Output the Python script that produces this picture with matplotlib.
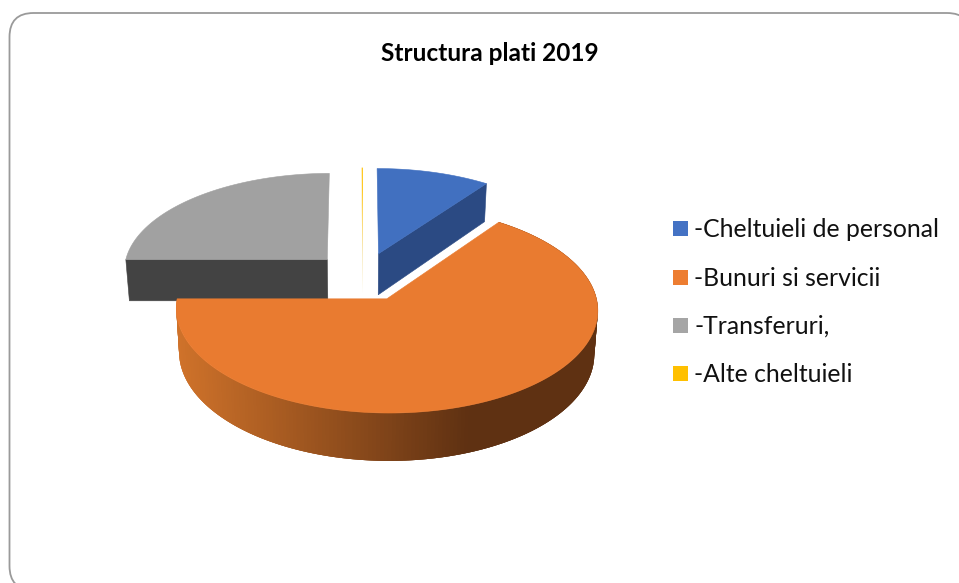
import numpy as np
import matplotlib
matplotlib.use("Agg")
import matplotlib.pyplot as plt
from matplotlib.patches import FancyBboxPatch, Polygon, Rectangle

# date
categorii = ["-Cheltuieli de personal", "-Bunuri si servicii", "-Transferuri,", "-Alte cheltuieli"]
valori = [10.0, 65.0, 24.9, 0.1]
titlu = "Structura plati 2019"

culori_sus = ["#4170C0", "#E97B30", "#A1A1A1", "#FFC000"]
culori_legenda = ["#4472C4", "#ED7D31", "#A5A5A5", "#FFC000"]
culori_lat = ["#2B4A83", "#8A4A1C", "#434343", "#F2D98A"]

# proiectia feliei 3D in pixeli
XC, YC = 363, 276.5
A, B, D = 205, 98, 42
K = 0.1
EXPLOZIE = 0.25


def proiect(u, v, jos=False):
    u = np.asarray(u, dtype=float)
    v = np.asarray(v, dtype=float)
    w = 1 + K * v
    if jos:
        return XC + 0.985 * A * u / w, YC - B * v / w + D / w
    return XC + A * u / w, YC - B * v / w


def perechi(x, y):
    return np.column_stack([x, y])


plt.rcParams["font.family"] = ["Lato", "DejaVu Sans"]
fig = plt.figure(figsize=(9.59, 5.83), dpi=100)
ax = fig.add_axes([0, 0, 1, 1])
ax.set_xlim(0, 959)
ax.set_ylim(583, 0)
ax.axis("off")

ax.add_patch(FancyBboxPatch((33.5, 37), 913.5, 529, boxstyle="round,pad=24,rounding_size=24",
                            fc="white", ec="#9A9A9A", lw=1.3))

unghiuri = np.cumsum([0] + valori) / sum(valori) * 2 * np.pi
felii = []
for i in range(len(valori)):
    t1, t2 = unghiuri[i], unghiuri[i + 1]
    mij = (t1 + t2) / 2
    felii.append((i, t1, t2, EXPLOZIE * np.sin(mij), EXPLOZIE * np.cos(mij)))

# ordinea: spate -> fata, portocaliu ultimul
for i, t1, t2, cu, cv in [felii[2], felii[3], felii[0], felii[1]]:
    th = np.linspace(t1, t2, 241)
    u = cu + np.sin(th)
    v = cv + np.cos(th)
    xs, ys = proiect(u, v)
    xj, yj = proiect(u, v, jos=True)
    lw = 0 if i == 3 else 0.4

    # marginea rotunda, doar daca felia trece prin fata; gradient pe x
    if t1 < np.pi < t2:
        c0 = np.array([0xCF, 0x72, 0x2A]) / 255
        c1 = np.array([0x5F, 0x31, 0x12]) / 255
        for n in range(len(th) - 1, 0, -1):
            m = max(n - 3, 0)
            poz = np.clip((xs[n] - 178) / (467 - 178), 0, 1)
            culoare = c0 + (c1 - c0) * poz
            ax.add_patch(Polygon(np.vstack([perechi(xs[m:n + 1], ys[m:n + 1]),
                                            perechi(xj[m:n + 1], yj[m:n + 1])[::-1]]),
                                 fc=culoare, ec="none"))

    # peretii plati care se vad
    for t, vizibil in [(t1, np.sin(t1) < 0), (t2, np.sin(t2) > 0)]:
        if not vizibil:
            continue
        uu = np.array([cu, cu + np.sin(t)])
        vv = np.array([cv, cv + np.cos(t)])
        xa, ya = proiect(uu, vv)
        xb, yb = proiect(uu, vv, jos=True)
        ax.add_patch(Polygon(np.vstack([perechi(xa, ya), perechi(xb, yb)[::-1]]),
                             fc=culori_lat[i], ec=culori_lat[i] if lw else "none", lw=lw))

    # fata de sus
    xa, ya = proiect(cu, cv)
    ax.add_patch(Polygon(np.vstack([[xa, ya], perechi(xs, ys)]), fc=culori_sus[i],
                         ec=culori_sus[i] if lw else "none", lw=lw))

ax.text(490, 53.5, titlu, ha="center", va="center", fontsize=17.6, fontweight="bold", color="black")

# legenda
y_leg = [228.5, 277, 325.5, 373.5]
for nume, culoare, y in zip(categorii, culori_legenda, y_leg):
    ax.add_patch(Rectangle((673, y - 7.5), 15, 15, fc=culoare, ec="none"))
    ax.text(694, y + 1, nume, ha="left", va="center", fontsize=17.8, color="#111111")

fig.savefig("out.png", dpi=100)
